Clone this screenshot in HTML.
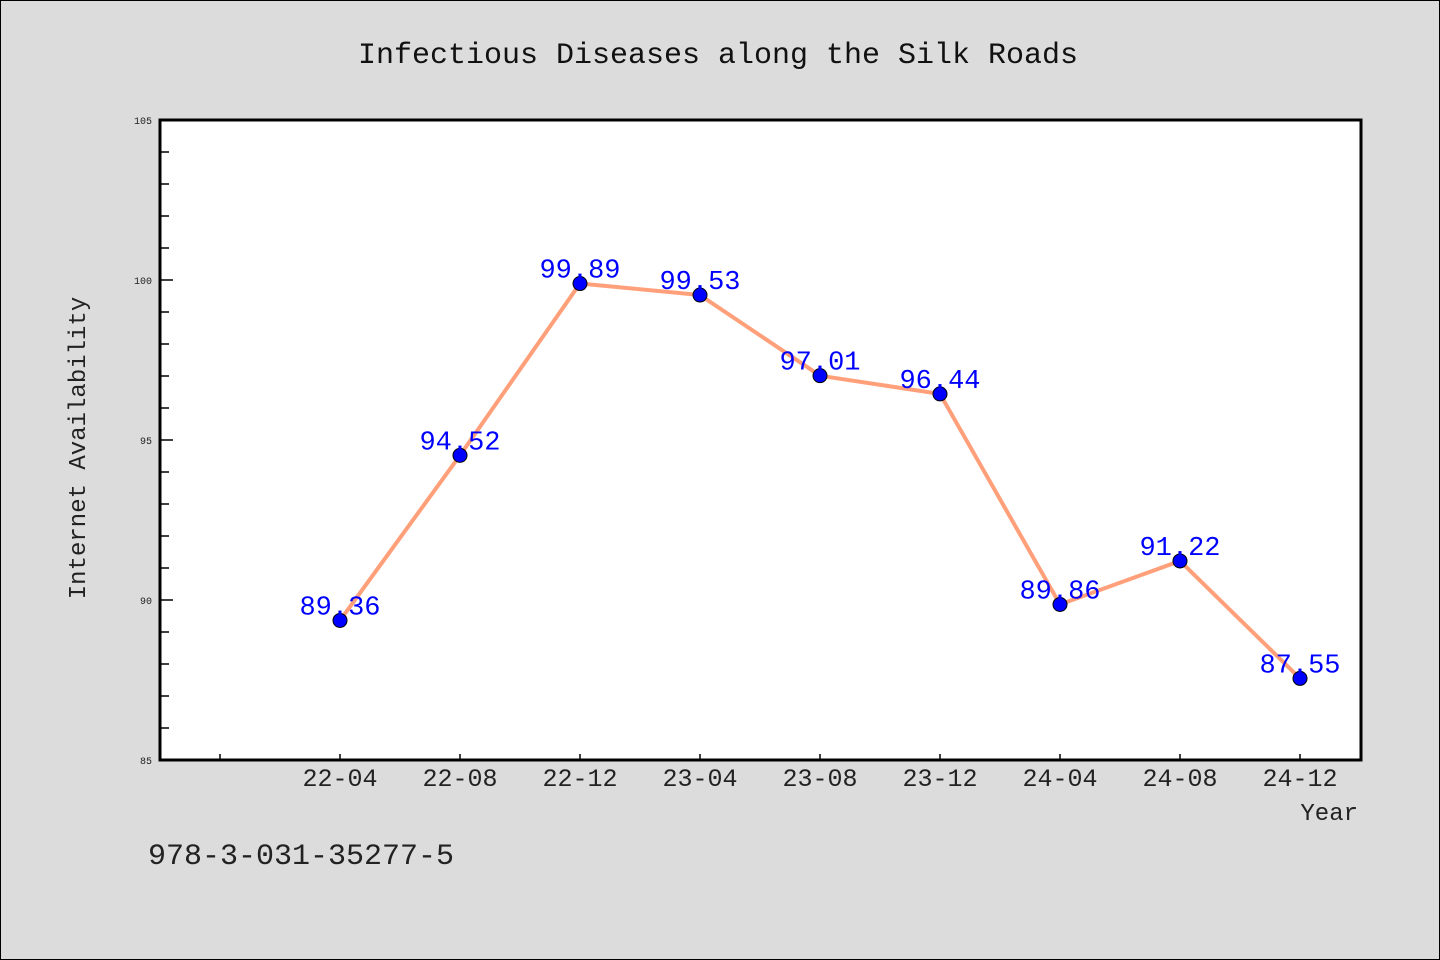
<!DOCTYPE html>
<html><head><meta charset="utf-8"><style>
body{margin:0;background:#dcdcdc;}
svg{display:block;font-family:"Liberation Mono","DejaVu Sans Mono",monospace;}
</style></head><body>
<svg id="chart" width="1440" height="960">
<rect x="0.5" y="0.5" width="1439" height="959" fill="#dcdcdc" stroke="#000"/>
<text x="718" y="63" text-anchor="middle" font-size="30" fill="#111">Infectious Diseases along the Silk Roads</text>
<rect x="160" y="120" width="1201" height="640" fill="#fff"/>
<g id="axes"></g>
<g id="series"></g>
<rect x="160" y="120" width="1201" height="640" fill="none" stroke="#000" stroke-width="3"/>
<text transform="translate(85,448) rotate(-90)" text-anchor="middle" font-size="24" fill="#222">Internet Availability</text>
<text x="1358" y="820" text-anchor="end" font-size="24" fill="#222">Year</text>
<text x="148" y="864" font-size="30" fill="#222">978-3-031-35277-5</text>
</svg>
<script>
const categories=["22-04","22-08","22-12","23-04","23-08","23-12","24-04","24-08","24-12"];
const values=[89.36,94.52,99.89,99.53,97.01,96.44,89.86,91.22,87.55];
const valueLabels=["89.36","94.52","99.89","99.53","97.01","96.44","89.86","91.22","87.55"];
const yTicks=[85,90,95,100,105];
const NS="http://www.w3.org/2000/svg";
const yMin=85,yMax=105,yTop=120,yBot=760;
function yScale(v){return yBot-(v-yMin)/(yMax-yMin)*(yBot-yTop);}
function xScale(i){return 340+120*i;}
function mk(t,a,p){const e=document.createElementNS(NS,t);for(const k in a)e.setAttribute(k,a[k]);p.appendChild(e);return e;}
const axes=document.getElementById('axes'),ser=document.getElementById('series');
for(let v=yMin;v<=yMax;v+=1){
  const major=yTicks.includes(v);
  const t=mk('line',{x1:160,x2:major?173:169,y1:yScale(v),y2:yScale(v),stroke:'#000','stroke-width':1.5},axes);
  
  
}
yTicks.forEach(v=>{
  const t=mk('text',{x:152,y:yScale(v)+4,'text-anchor':'end','font-size':10,fill:'#222'},axes);
  t.textContent=v;
  
  
});
for(let i=-1;i<categories.length;i++){
  const t=mk('line',{x1:xScale(i),x2:xScale(i),y1:760,y2:754,stroke:'#000','stroke-width':1.5},axes);
  
  
}
categories.forEach((c,i)=>{
  const t=mk('text',{x:xScale(i),y:786,'text-anchor':'middle','font-size':25,fill:'#222'},axes);
  t.textContent=c;
  
  
});
const line=mk('polyline',{points:values.map((v,i)=>xScale(i)+','+yScale(v)).join(' '),fill:'none',stroke:'#ffa07a','stroke-width':4},ser);


values.forEach((v,i)=>{
  const c=mk('circle',{cx:xScale(i),cy:yScale(v),r:7,fill:'#0000ff',stroke:'#000','stroke-width':1},ser);
  
  
  const t=mk('text',{x:xScale(i),y:yScale(v)-6,'text-anchor':'middle','font-size':27,fill:'#0000ff'},ser);
  t.textContent=valueLabels[i];
  
  
});
</script>
</body></html>
